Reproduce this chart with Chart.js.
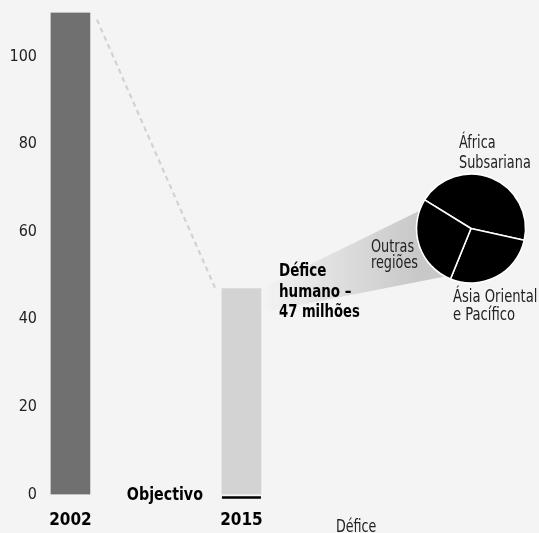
<!DOCTYPE html>
<html><head><meta charset="utf-8">
<script src="https://cdn.jsdelivr.net/npm/chart.js@4.4.0/dist/chart.umd.min.js"></script>
<style>
html,body{margin:0;padding:0;background:#f4f4f4;}
#wrap{position:relative;width:539px;height:533px;overflow:hidden;}
#main{position:absolute;left:0;top:0;}
#pie{position:absolute;left:411px;top:168px;}
</style></head><body>
<div id="wrap"><canvas id="main" width="539" height="533"></canvas><canvas id="pie" width="120" height="121"></canvas></div>
<script>
// ---- data ----
const years = ['2002', '2015'];
const deficit = [110, 47];          // millions (bar heights)
const goal2015 = 0;                 // "Objectivo"
const yTicks = [0, 20, 40, 60, 80, 100];
const regions = ['África Subsariana', 'Ásia Oriental e Pacífico', 'Outras regiões'];
const regionShares = [21, 13, 13];  // millions of the 47 million deficit

const FONT = "'Liberation Sans Narrow', 'Arial Narrow', 'DejaVu Sans Condensed', 'Liberation Sans', sans-serif";
const PIE_CX = 471, PIE_CY = 228.5, PIE_R = 54.5;

function narrowText(ctx, t, x, y, sx, align) {
  ctx.save();
  ctx.translate(x, y);
  ctx.scale(sx, 1);
  ctx.textAlign = align || 'left';
  ctx.fillText(t, 0, 0);
  ctx.restore();
}

const overlay = {
  id: 'overlay',
  beforeDatasetsDraw(chart) {
    const ctx = chart.ctx;
    const b1 = chart.getDatasetMeta(0).data[1];
    const rx = b1.x + b1.width / 2, ty = b1.y;
    // grey "beam" from the 2015 bar to the pie
    const g = ctx.createLinearGradient(rx, 0, PIE_CX - PIE_R, 0);
    g.addColorStop(0, 'rgba(200,200,200,0)');
    g.addColorStop(1, 'rgba(200,200,200,1)');
    ctx.save();
    ctx.fillStyle = g;
    ctx.beginPath();
    ctx.moveTo(rx, ty);
    ctx.lineTo(PIE_CX - 53, PIE_CY - 17);
    ctx.lineTo(PIE_CX, PIE_CY);
    ctx.lineTo(PIE_CX - 26, PIE_CY + 48);
    ctx.lineTo(rx, ty + 24);
    ctx.closePath();
    ctx.fill();
    ctx.restore();
  },
  afterDatasetsDraw(chart) {
    const ctx = chart.ctx;
    const meta = chart.getDatasetMeta(0);
    const b0 = meta.data[0], b1 = meta.data[1];
    const ys = chart.scales.y;
    ctx.save();
    // dashed connector
    ctx.strokeStyle = '#d2d2d2';
    ctx.lineWidth = 2.2;
    ctx.setLineDash([5, 4]);
    ctx.beginPath();
    ctx.moveTo(b0.x + b0.width / 2 + 7, b0.y + 7);
    ctx.lineTo(b1.x - b1.width / 2 - 7, b1.y - 1);
    ctx.stroke();
    ctx.setLineDash([]);
    // goal line
    ctx.strokeStyle = '#000';
    ctx.lineWidth = 2.5;
    const gy = ys.getPixelForValue(goal2015) + 3;
    ctx.beginPath();
    ctx.moveTo(b1.x - b1.width / 2, gy);
    ctx.lineTo(b1.x + b1.width / 2, gy);
    ctx.stroke();
    // texts
    ctx.textBaseline = 'alphabetic';
    ctx.fillStyle = '#000';
    ctx.font = 'bold 18px ' + FONT;
    narrowText(ctx, 'Objectivo', b1.x - b1.width / 2 - 19, gy + 2, 0.88, 'right');
    ctx.font = 'bold 17px ' + FONT;
    narrowText(ctx, 'Défice', 279, 275.5, 0.88);
    narrowText(ctx, 'humano –', 279, 297, 0.88);
    narrowText(ctx, '47 milhões', 279, 317, 0.86);
    ctx.fillStyle = '#222';
    ctx.font = '17px ' + FONT;
    narrowText(ctx, 'Outras', 371, 252, 0.84);
    narrowText(ctx, 'regiões', 371, 267.5, 0.84);
    narrowText(ctx, 'África', 459, 148, 0.84);
    narrowText(ctx, 'Subsariana', 459, 168, 0.84);
    narrowText(ctx, 'Ásia Oriental', 453, 302, 0.86);
    narrowText(ctx, 'e Pacífico', 453, 320, 0.86);
    narrowText(ctx, 'Défice', 336, 532, 0.83);
    ctx.restore();
  }
};

new Chart(document.getElementById('main'), {
  type: 'bar',
  data: {
    datasets: [{
      data: years.map((y, i) => ({ x: i, y: deficit[i] })),
      backgroundColor: ['#707070', '#d3d3d3'],
      barThickness: 39
    }]
  },
  options: {
    responsive: false,
    animation: false,
    events: [],
    layout: { padding: { top: 10.5, left: 0, right: 0, bottom: 0 } },
    plugins: { legend: { display: false }, tooltip: { enabled: false } },
    scales: {
      x: {
        type: 'linear',
        offset: false,
        min: -0.178,
        max: 2.74,
        grid: { display: false, drawTicks: false, offset: false },
        border: { display: false },
        afterBuildTicks: s => { s.ticks = years.map((_, i) => ({ value: i })); },
        afterFit: s => { s.height = 38.5; },
        ticks: {
          callback: v => years[v],
          autoSkip: false,
          maxRotation: 0,
          padding: 16,
          color: '#000',
          font: { family: FONT, size: 17, weight: 'bold' }
        }
      },
      y: {
        min: 0,
        max: 110,
        grid: { display: false, drawTicks: false },
        border: { display: false },
        afterBuildTicks: s => { s.ticks = yTicks.map(v => ({ value: v })); },
        afterFit: s => { s.width = 40; },
        ticks: {
          padding: 3,
          color: '#222',
          font: { family: FONT, size: 16 }
        }
      }
    }
  },
  plugins: [overlay]
});

new Chart(document.getElementById('pie'), {
  type: 'pie',
  data: {
    labels: regions,
    datasets: [{
      data: regionShares,
      backgroundColor: '#000',
      borderColor: '#fff',
      borderWidth: 1.6,
      hoverOffset: 0,
      radius: PIE_R
    }]
  },
  options: {
    responsive: false,
    animation: false,
    events: [],
    rotation: 301.7,
    layout: { padding: 0 },
    plugins: { legend: { display: false }, tooltip: { enabled: false } }
  }
});
</script>
</body></html>
